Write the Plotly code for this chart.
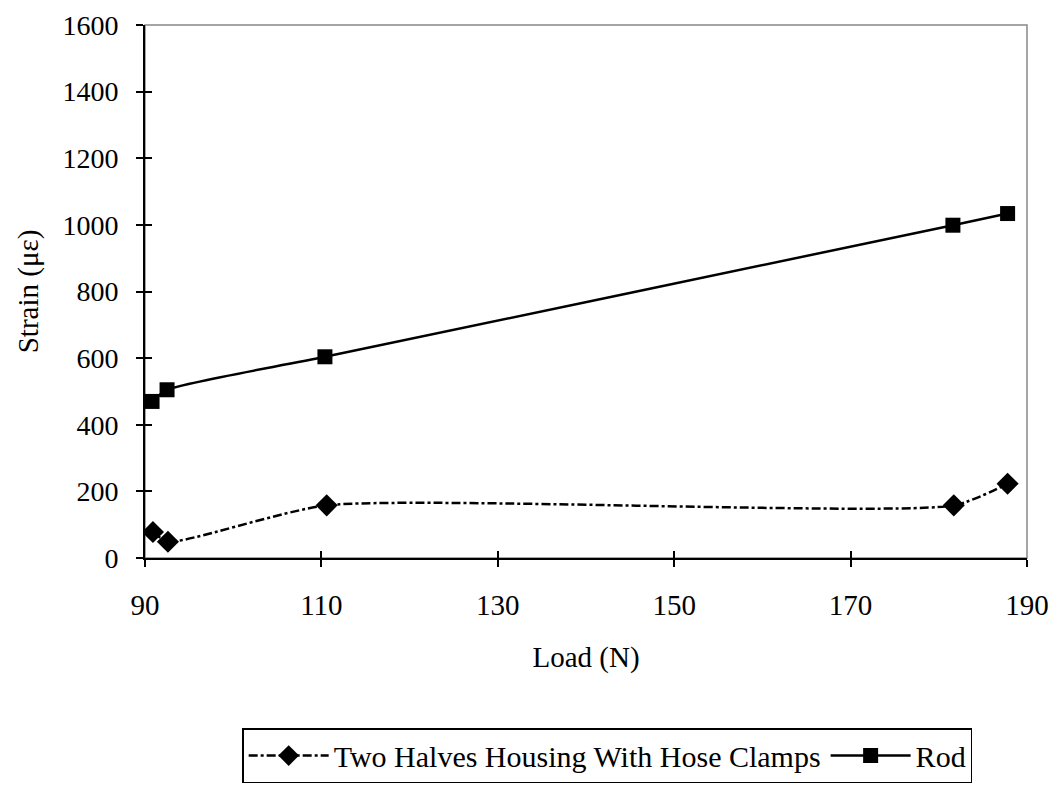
import plotly.graph_objects as go

load_hose = [90.9, 92.6, 110.6, 181.7, 187.8]
strain_hose = [78, 49, 158, 158, 223]
load_rod = [90.8, 92.5, 110.4, 181.6, 187.8]
strain_rod = [470, 505, 604, 999, 1034]
x_ticks = [90, 110, 130, 150, 170, 190]
y_ticks = [0, 200, 400, 600, 800, 1000, 1200, 1400, 1600]

font_family = "Liberation Serif, Times New Roman, serif"

fig = go.Figure()
fig.add_trace(go.Scatter(
    x=load_hose, y=strain_hose, mode="lines+markers",
    name="Two Halves Housing With Hose Clamps",
    line=dict(color="black", width=2.5, dash="dashdot", shape="spline", smoothing=0.6),
    marker=dict(symbol="diamond", size=17, color="black"),
))
fig.add_trace(go.Scatter(
    x=load_rod, y=strain_rod, mode="lines+markers",
    name="Rod",
    line=dict(color="black", width=2.5, shape="spline", smoothing=0.6),
    marker=dict(symbol="square", size=15, color="black"),
))

fig.update_layout(
    width=1052, height=781,
    paper_bgcolor="white", plot_bgcolor="white",
    margin=dict(l=137, r=33, t=17, b=231, autoexpand=False),
    font=dict(family=font_family, size=28, color="black"),
    showlegend=True,
    legend=dict(
        orientation="h", x=0.524, xanchor="center", y=-0.319, yanchor="top",
        bordercolor="black", borderwidth=1.5, font=dict(size=30),
        itemwidth=80,
    ),
    shapes=[dict(type="rect", xref="paper", yref="paper", x0=0, x1=1, y0=0, y1=1,
                 line=dict(color="#888888", width=1.5), layer="below")],
    xaxis=dict(
        range=[90, 190], tickvals=x_ticks, ticktext=[str(v) for v in x_ticks],
        showgrid=False, zeroline=False, showline=True, linecolor="black", linewidth=2,
        ticks="outside", ticklen=7, tickcolor="black", tickwidth=1.5,
        ticklabelstandoff=13, automargin=False, ticklabeloverflow="allow",
        title=dict(text="Load (N)", standoff=27, font=dict(size=29)), tickfont=dict(size=29),
    ),
    yaxis=dict(
        range=[0, 1600], tickvals=y_ticks, ticktext=[str(v) for v in y_ticks],
        showgrid=False, zeroline=False, showline=True, linecolor="black", linewidth=2,
        ticks="outside", ticklen=7, tickcolor="black", tickwidth=1.5,
        ticklabelstandoff=12, automargin=False, ticklabeloverflow="allow",
        title=dict(text="Strain (με)", standoff=15, font=dict(size=29)), tickfont=dict(size=28),
    ),
    xaxis2=dict(
        range=[90, 190], tickvals=x_ticks, overlaying="x", side="bottom",
        showticklabels=False, showgrid=False, zeroline=False, showline=False,
        ticks="inside", ticklen=7, tickcolor="black", tickwidth=1.5, automargin=False,
    ),
    yaxis2=dict(
        range=[0, 1600], tickvals=y_ticks, overlaying="y", side="left",
        showticklabels=False, showgrid=False, zeroline=False, showline=False,
        ticks="inside", ticklen=7, tickcolor="black", tickwidth=1.5, automargin=False,
    ),
)
# invisible trace to activate the overlay axes (cross-style ticks)
fig.add_trace(go.Scatter(x=[x_ticks[0]], y=[y_ticks[0]], xaxis="x2", yaxis="y2",
                         mode="markers", marker=dict(opacity=0), showlegend=False,
                         hoverinfo="skip"))

fig.write_html("out.html")
